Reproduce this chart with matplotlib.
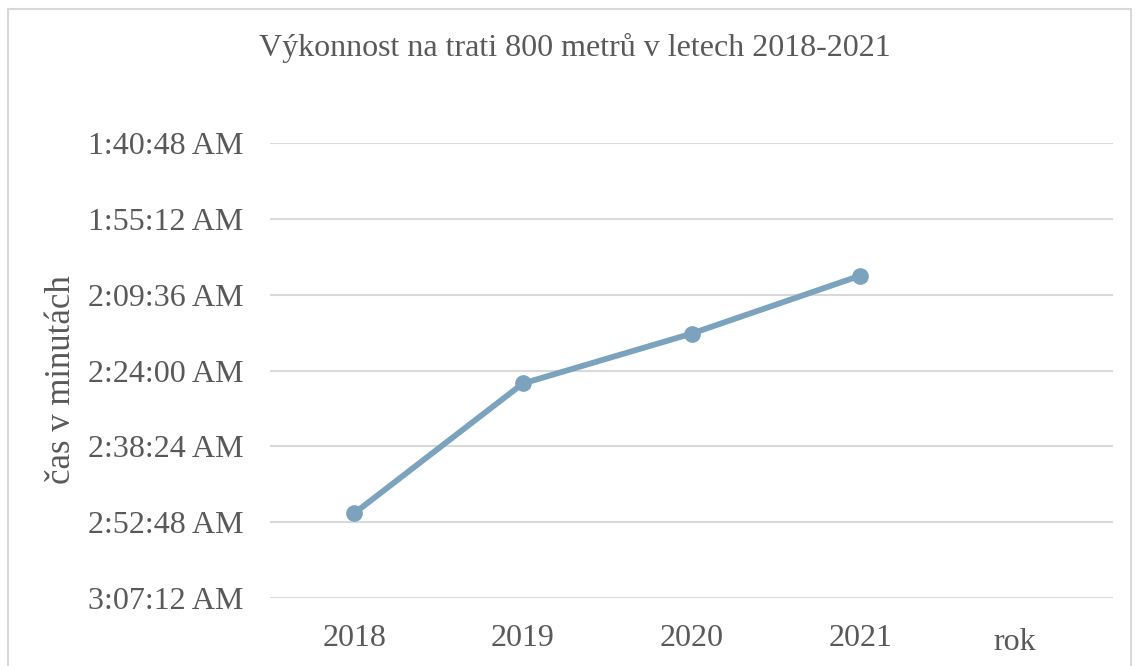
import matplotlib
matplotlib.use("Agg")
import matplotlib.pyplot as plt
from matplotlib.ticker import FuncFormatter, MultipleLocator
from matplotlib.patches import Rectangle

years = ["2018", "2019", "2020", "2021"]
times = ["2:51:06", "2:26:28", "2:17:00", "2:06:00"]
y_min_label = "1:40:48"
y_max_label = "3:07:12"
y_step_label = "0:14:24"
title = "Výkonnost na trati 800 metrů v letech 2018-2021"
ylabel = "čas v minutách"
xlabel = "rok"


def to_sec(s):
    h, m, sec = (int(p) for p in s.split(":"))
    return h * 3600 + m * 60 + sec


def fmt(v, pos):
    v = int(round(v))
    h = v // 3600
    m = (v % 3600) // 60
    s = v % 60
    return f"{h}:{m:02d}:{s:02d} AM"


vals = [to_sec(t) for t in times]
text_c = "#595959"
plt.rcParams["font.family"] = ["Liberation Serif", "DejaVu Serif"]

fig = plt.figure(figsize=(11.39, 6.66), dpi=100)
ax = fig.add_axes([270 / 1139, 1 - 598 / 666, 843 / 1139, 455 / 666])

ax.plot(range(len(years)), vals, color="#7BA3BD", lw=4.2, marker="o",
        markersize=11, solid_capstyle="round", zorder=3)

ax.set_ylim(to_sec(y_max_label), to_sec(y_min_label))
ax.yaxis.set_major_locator(MultipleLocator(to_sec(y_step_label)))
ax.yaxis.set_major_formatter(FuncFormatter(fmt))
ax.set_xlim(-0.5, len(years) + 0.5)
ax.set_xticks(range(len(years)))
ax.set_xticklabels(years)

ax.grid(axis="y", color="#D9D9D9", lw=1.5)
ax.set_axisbelow(True)
for sp in ax.spines.values():
    sp.set_visible(False)
ax.tick_params(axis="both", length=0, labelsize=23, colors=text_c)
ax.tick_params(axis="y", pad=19)
ax.tick_params(axis="x", pad=19)

ax.set_ylabel(ylabel, fontsize=25, color=text_c)
ax.yaxis.set_label_coords(-(270 - 61) / 843, (598 - 380) / 455)
ax.yaxis.label.set_va("center")
ax.set_xlabel(xlabel, fontsize=23, color=text_c)
ax.xaxis.set_label_coords((1015 - 270) / 843, -(643 - 598) / 455)
ax.xaxis.label.set_va("center")

fig.text(575 / 1139, 1 - 48 / 666, title, fontsize=23, color=text_c,
         ha="center", va="center")

fig.patches.append(Rectangle((8 / 1139, -0.02), (1131 - 8) / 1139, 1.02 - 9 / 666,
                             transform=fig.transFigure, fill=False,
                             edgecolor="#D9D9D9", lw=1.5))

fig.savefig("out.png", dpi=100)
